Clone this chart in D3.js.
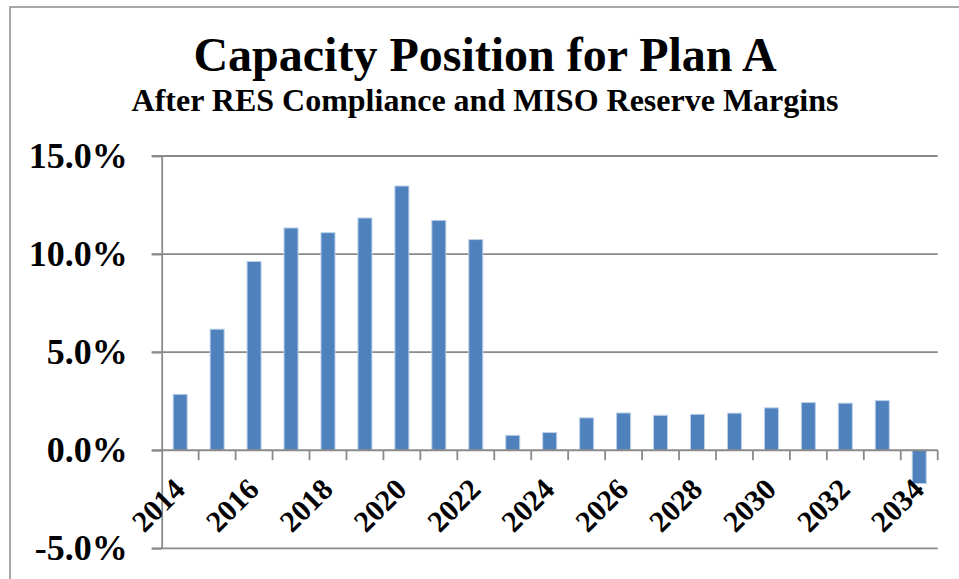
<!DOCTYPE html>
<html>
<head>
<meta charset="utf-8">
<script src="https://cdn.jsdelivr.net/npm/d3@7"></script>
<style>
  html, body { margin: 0; padding: 0; background: #fff; }
  svg { display: block; }
</style>
</head>
<body>
<div id="chart"></div>
<script>
// Capacity position bars, one per year
const years = ["2014", "2015", "2016", "2017", "2018", "2019", "2020", "2021", "2022", "2023", "2024",
  "2025", "2026", "2027", "2028", "2029", "2030", "2031", "2032", "2033", "2034"];
const positions = [2.85, 6.17, 9.62, 11.33, 11.09, 11.84, 13.47, 11.72, 10.74, 0.76, 0.90,
  1.65, 1.90, 1.78, 1.83, 1.89, 2.16, 2.43, 2.40, 2.53, -1.70];
const yTicks = [-5, 0, 5, 10, 15];
const labelYears = years.filter((d, i) => i % 2 === 0);

(function() {
    const W = 959, H = 579;
    const plot = {left: 161.7, right: 937.7, top: 156, bottom: 548.3};
    const font = "'Liberation Serif', 'Times New Roman', serif";
    const gridColor = "#8a8a8a";

    const svg = d3.select("#chart")
        .append("svg")
        .attr("width", W)
        .attr("height", H)
        .style("font-family", font);

    // outer chart border (right and bottom run off the picture)
    svg.append("rect")
        .attr("x", 10).attr("y", 7)
        .attr("width", 1200).attr("height", 800)
        .attr("fill", "none")
        .attr("stroke", "#8c8c8c")
        .attr("stroke-width", 1.5);

    svg.append("text")
        .attr("x", 485).attr("y", 71)
        .attr("text-anchor", "middle")
        .attr("font-weight", "bold")
        .attr("font-size", "48px")
        .text("Capacity Position for Plan A");

    svg.append("text")
        .attr("x", 485).attr("y", 111)
        .attr("text-anchor", "middle")
        .attr("font-weight", "bold")
        .attr("font-size", "32px")
        .text("After RES Compliance and MISO Reserve Margins");

    const x = d3.scaleBand()
        .domain(years)
        .range([plot.left, plot.right])
        .paddingInner(0.621)
        .paddingOuter(0.3105);

    const step = (plot.right - plot.left) / years.length;

    const y = d3.scaleLinear()
        .domain([-5, 15])
        .range([plot.bottom, plot.top]);

    // horizontal gridlines
    svg.append("g")
        .selectAll("line")
        .data(yTicks.filter(d => d !== 0))
        .enter()
        .append("line")
        .attr("x1", plot.left - 10)
        .attr("x2", plot.right)
        .attr("y1", d => y(d))
        .attr("y2", d => y(d))
        .attr("stroke", gridColor)
        .attr("stroke-width", 1.8);

    // bars
    svg.append("g")
        .selectAll("rect")
        .data(years.map((d, i) => ({year: d, value: positions[i]})))
        .enter()
        .append("rect")
        .attr("x", d => x(d.year))
        .attr("y", d => y(Math.max(0, d.value)))
        .attr("width", x.bandwidth())
        .attr("height", d => Math.abs(y(d.value) - y(0)))
        .attr("fill", "#4f81bd")
        .attr("stroke", "#bcd0e8")
        .attr("stroke-width", 1);

    // y axis with labels (plain hyphen for the minus sign)
    const yAxis = svg.append("g")
        .attr("transform", `translate(${plot.left},0)`)
        .call(d3.axisLeft(y)
            .tickValues(yTicks)
            .tickFormat(d => d.toFixed(1) + "%")
            .tickSize(10)
            .tickSizeOuter(0)
            .tickPadding(24));
    yAxis.select(".domain")
        .attr("stroke", gridColor)
        .attr("stroke-width", 1.8);
    yAxis.selectAll(".tick line")
        .attr("stroke", gridColor)
        .attr("stroke-width", 1.8);
    yAxis.selectAll(".tick text")
        .attr("font-family", font)
        .attr("font-weight", "bold")
        .attr("font-size", "36px")
        .attr("fill", "#000");

    // zero line with category boundary ticks
    const xAxis = svg.append("g");
    xAxis.append("line")
        .attr("x1", plot.left - 10)
        .attr("x2", plot.right)
        .attr("y1", y(0))
        .attr("y2", y(0))
        .attr("stroke", gridColor)
        .attr("stroke-width", 1.8);
    xAxis.selectAll(".bt")
        .data(d3.range(1, years.length + 1))
        .enter()
        .append("line")
        .attr("class", "bt")
        .attr("x1", i => plot.left + i * step)
        .attr("x2", i => plot.left + i * step)
        .attr("y1", y(0))
        .attr("y2", y(0) + 10)
        .attr("stroke", gridColor)
        .attr("stroke-width", 1.8);

    xAxis.selectAll(".xl")
        .data(labelYears)
        .enter()
        .append("text")
        .attr("class", "xl")
        .attr("transform", d => `translate(${x(d) + x.bandwidth() / 2 + 6.5},${y(0) + 41}) rotate(-45)`)
        .attr("text-anchor", "end")
        .attr("font-weight", "bold")
        .attr("font-size", "30px")
        .text(d => d);
})();
</script>
</body>
</html>
